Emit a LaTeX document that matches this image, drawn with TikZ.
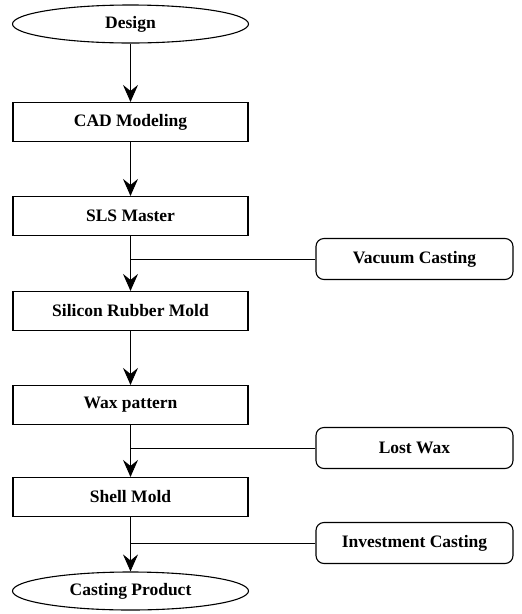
\documentclass[tikz,border=0pt]{standalone}
\usepackage{fontspec}
\setmainfont{Liberation Serif}
\usetikzlibrary{arrows.meta,shapes.geometric}
\tikzset{
    >={Stealth[length=17pt,width=15pt,inset=6pt]},
    flow/.style={
        every node/.append style={align=center,font=\fontsize{17.5}{20}\selectfont\bfseries},
        term/.append style={draw,line width=1.1pt,ellipse,minimum width=236pt,minimum height=38pt,inner sep=0pt},
        step box/.append style={draw,line width=1.1pt,rectangle,minimum width=235pt,minimum height=39pt,inner sep=0pt},
        side/.append style={draw,line width=1.1pt,rectangle,rounded corners=8pt,minimum width=197pt,minimum height=41pt,inner sep=0pt},
        link/.append style={line width=0.9pt}
    }
}

\begin{document}
\begin{tikzpicture}[flow,x=1pt,y=-1pt]
    \useasboundingbox (0,0) rectangle (522,614);
    \node[term] (des) at (130.5, 24) {Design};
    \node[step box] (cad) at (130.5, 122) {CAD Modeling};
    \node[step box] (sls) at (130.5, 216) {SLS Master};
    \node[side] (vac) at (414.5, 259) {Vacuum Casting};
    \node[step box] (srm) at (130.5, 311) {Silicon Rubber Mold};
    \node[step box] (wax) at (130.5, 405) {Wax pattern};
    \node[side] (lw) at (414.5, 448) {Lost Wax};
    \node[step box] (shm) at (130.5, 497) {Shell Mold};
    \node[side] (inv) at (414.5, 543) {Investment Casting};
    \node[term] (cp) at (130.5, 591) {Casting Product};

    \draw[link,->] (des) -- (cad);
    \draw[link,->] (cad) -- (sls);
    \draw[link,->] (sls) -- (srm);
    \draw[link,->] (srm) -- (wax);
    \draw[link,->] (wax) -- (shm);
    \draw[link,->] (shm) -- (cp);
    \draw[link] (vac.west) -- (vac.west -| sls.south);
    \draw[link] (lw.west) -- (lw.west -| wax.south);
    \draw[link] (inv.west) -- (inv.west -| shm.south);
\end{tikzpicture}
\end{document}
